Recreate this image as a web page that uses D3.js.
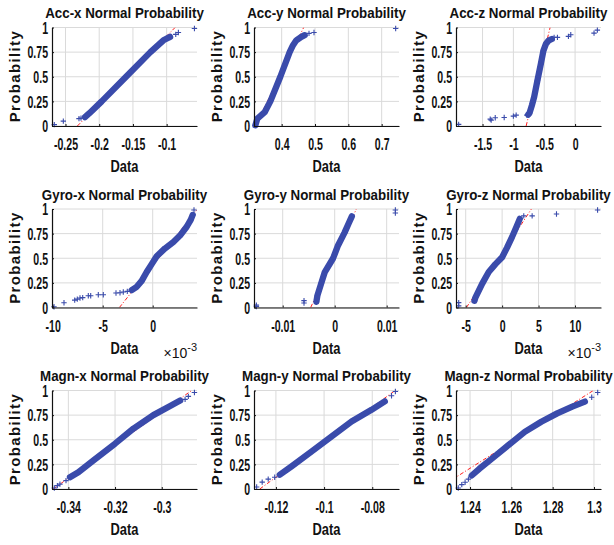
<!DOCTYPE html>
<html>
<head>
<meta charset="utf-8">
<script src="https://cdn.jsdelivr.net/npm/d3@7"></script>
<style>
  body { margin: 0; background: #fff; }
  svg { display: block; font-family: "Liberation Sans", Arial, sans-serif; }
</style>
</head>
<body>
<div id="chart"></div>
<script>
// values, [data, probability]
// band = dense run of markers, tail = the loose markers, ref = fit line x at p=0 and p=1
const accXDomain = [-0.27, -0.055];
const accXTicks = [-0.25, -0.2, -0.15, -0.1];
const accXBand = [[-0.2211, 0.09], [-0.2145, 0.13], [-0.1963, 0.25], [-0.1602, 0.5], [-0.1241, 0.75], [-0.1048, 0.87], [-0.0949, 0.905]];
const accXTail = [[-0.2666, 0.014], [-0.2532, 0.05], [-0.23, 0.075], [-0.227, 0.08], [-0.0865, 0.93], [-0.0826, 0.95], [-0.0588, 0.99]];
const accXRef = [-0.2324, -0.0875];

const accYDomain = [0.317, 0.752];
const accYTicks = [0.4, 0.5, 0.6, 0.7];
const accYBand = [[0.321, 0.007], [0.327, 0.075], [0.339, 0.11], [0.349, 0.14], [0.366, 0.25], [0.396, 0.5], [0.424, 0.75], [0.434, 0.82], [0.444, 0.87], [0.459, 0.905], [0.469, 0.922]];
const accYTail = [[0.482, 0.94], [0.497, 0.95], [0.742, 0.99]];
const accYRef = [0.321, 0.466];

const accZDomain = [-1.93, 0.42];
const accZTicks = [-1.5, -1, -0.5, 0];
const accZBand = [[-0.76, 0.115], [-0.739, 0.13], [-0.70, 0.21], [-0.663, 0.295], [-0.61, 0.463], [-0.555, 0.63], [-0.513, 0.765], [-0.474, 0.832], [-0.432, 0.866], [-0.377, 0.883]];
const accZTail = [[-1.887, 0.017], [-1.375, 0.07], [-1.36, 0.06], [-1.294, 0.084], [-1.149, 0.087], [-1.0, 0.10], [-0.955, 0.11], [-0.782, 0.11],
                  [-0.34, 0.9], [-0.286, 0.9], [-0.108, 0.91], [-0.07, 0.926], [0.307, 0.943], [0.361, 0.973]];
const accZRef = [-0.793, -0.405];

const gyroXDomain = [-0.01007, 0.00443];
const gyroXTicks = [-0.01, -0.005, 0];
const gyroXBand = [[-0.0021, 0.177], [-0.0016, 0.21], [-0.0011, 0.27], [-0.0006, 0.36], [-0.0001, 0.44], [0.0004, 0.52], [0.00123, 0.6], [0.00207, 0.665], [0.00273, 0.73], [0.0034, 0.82], [0.0038, 0.89], [0.0040, 0.94]];
const gyroXTail = [[-0.00987, 0.007], [-0.00887, 0.048], [-0.0078, 0.075], [-0.00754, 0.085], [-0.00727, 0.096], [-0.0070, 0.10], [-0.00644, 0.12], [-0.0062, 0.12],
                   [-0.00544, 0.13], [-0.00494, 0.13], [-0.00367, 0.147], [-0.00327, 0.15], [-0.00294, 0.157], [-0.00254, 0.164], [0.00413, 0.99]];
const gyroXRef = [-0.00333, 0.0045];

const gyroYDomain = [-0.01552, 0.01237];
const gyroYTicks = [-0.01, 0, 0.01];
const gyroYBand = [[-0.00352, 0.058], [-0.00333, 0.12], [-0.00256, 0.25], [-0.0019, 0.36], [-0.0003, 0.5], [0.00064, 0.63], [0.0019, 0.76], [0.0027, 0.856], [0.0033, 0.925]];
const gyroYTail = [[-0.01506, 0.01], [-0.01506, 0.024], [-0.0059, 0.045], [-0.0059, 0.07], [0.01167, 0.99], [0.01167, 0.96]];
const gyroYRef = [-0.00462, 0.00417];

const gyroZDomain = [-0.00633, 0.01357];
const gyroZTicks = [-0.005, 0, 0.005, 0.01];
const gyroZBand = [[-0.0038, 0.068], [-0.00367, 0.1], [-0.00275, 0.24], [-0.00184, 0.36], [-0.00092, 0.44], [0, 0.51], [0.00069, 0.61], [0.00137, 0.717], [0.00206, 0.836], [0.00242, 0.9]];
const gyroZTail = [[-0.00596, 0.017], [-0.00596, 0.05], [0.00297, 0.93], [0.00412, 0.93], [0.00746, 0.95], [0.0131, 0.99]];
const gyroZRef = [-0.0049, 0.00402];

const magnXDomain = [-0.347, -0.2849];
const magnXTicks = [-0.34, -0.32, -0.3];
const magnXBand = [[-0.3393, 0.12], [-0.3357, 0.17], [-0.3293, 0.29], [-0.3200, 0.46], [-0.3121, 0.614], [-0.3036, 0.75], [-0.2964, 0.843], [-0.2921, 0.898]];
const magnXTail = [[-0.346, 0.01], [-0.3447, 0.034], [-0.3436, 0.05], [-0.341, 0.085], [-0.29, 0.91], [-0.2886, 0.94], [-0.286, 0.98]];
const magnXRef = [-0.3465, -0.2872];

const magnYDomain = [-0.1291, -0.0689];
const magnYTicks = [-0.12, -0.1, -0.08];
const magnYBand = [[-0.1184, 0.145], [-0.1135, 0.23], [-0.1052, 0.38], [-0.0969, 0.534], [-0.0886, 0.686], [-0.0803, 0.804], [-0.0748, 0.889]];
const magnYTail = [[-0.128, 0.02], [-0.1257, 0.07], [-0.1232, 0.1], [-0.1205, 0.12], [-0.072, 0.946], [-0.0704, 0.99]];
const magnYRef = [-0.1267, -0.0705];

const magnZDomain = [1.2332, 1.3034];
const magnZTicks = [1.24, 1.26, 1.28, 1.3];
const magnZBand = [[1.2408, 0.137], [1.2445, 0.205], [1.2515, 0.324], [1.2585, 0.444], [1.2665, 0.58], [1.2745, 0.683], [1.2822, 0.768], [1.2895, 0.836], [1.2956, 0.887]];
const magnZTail = [[1.2343, 0.01], [1.236, 0.044], [1.2376, 0.068], [1.2392, 0.1], [1.2989, 0.932], [1.3018, 0.98]];
const magnZRef = [1.2241, 1.2997];

const probTicks = [0, 0.25, 0.5, 0.75, 1];

const plain = d => String(d);
const milli = d => String(Math.round(d * 1000));

const panels = [
    {title: "Acc-x Normal Probability", domain: accXDomain, ticks: accXTicks, band: accXBand, tail: accXTail, ref: accXRef, fmt: plain},
    {title: "Acc-y Normal Probability", domain: accYDomain, ticks: accYTicks, band: accYBand, tail: accYTail, ref: accYRef, fmt: plain},
    {title: "Acc-z Normal Probability", domain: accZDomain, ticks: accZTicks, band: accZBand, tail: accZTail, ref: accZRef, fmt: plain},
    {title: "Gyro-x Normal Probability", domain: gyroXDomain, ticks: gyroXTicks, band: gyroXBand, tail: gyroXTail, ref: gyroXRef, fmt: milli, exp: true},
    {title: "Gyro-y Normal Probability", domain: gyroYDomain, ticks: gyroYTicks, band: gyroYBand, tail: gyroYTail, ref: gyroYRef, fmt: plain},
    {title: "Gyro-z Normal Probability", domain: gyroZDomain, ticks: gyroZTicks, band: gyroZBand, tail: gyroZTail, ref: gyroZRef, fmt: milli, exp: true},
    {title: "Magn-x Normal Probability", domain: magnXDomain, ticks: magnXTicks, band: magnXBand, tail: magnXTail, ref: magnXRef, fmt: plain},
    {title: "Magn-y Normal Probability", domain: magnYDomain, ticks: magnYTicks, band: magnYBand, tail: magnYTail, ref: magnYRef, fmt: plain},
    {title: "Magn-z Normal Probability", domain: magnZDomain, ticks: magnZTicks, band: magnZBand, tail: magnZTail, ref: magnZRef, fmt: plain}
];

const width = 614, height = 545;
const colLeft = [52, 254, 456];
const rowTop = [27.5, 209, 390.5];
const pw = 145, ph = 98.5;
const blue = "#3a4bab";
const ink = "#111";
const tickScale = 0.66;

const svg = d3.select("#chart")
    .append("svg")
    .attr("width", width)
    .attr("height", height);
const defs = svg.append("defs");

const yScale = d3.scaleLinear().domain([0, 1]).range([ph, 0]);

panels.forEach((pn, i) => {
    const col = i % 3, row = Math.floor(i / 3);
    const g = svg.append("g").attr("transform", `translate(${colLeft[col]},${rowTop[row]})`);
    const xScale = d3.scaleLinear().domain(pn.domain).range([0, pw]);

    // grid
    g.append("g").selectAll("line")
        .data(pn.ticks)
        .join("line")
        .attr("x1", d => xScale(d)).attr("x2", d => xScale(d))
        .attr("y1", 0).attr("y2", ph)
        .attr("stroke", "#dadada");
    g.append("g").selectAll("line")
        .data(probTicks)
        .join("line")
        .attr("x1", 0).attr("x2", pw)
        .attr("y1", d => yScale(d)).attr("y2", d => yScale(d))
        .attr("stroke", "#dadada");

    defs.append("clipPath").attr("id", "clip" + i)
        .append("rect").attr("width", pw).attr("height", ph);

    // fitted line
    g.append("line")
        .attr("clip-path", `url(#clip${i})`)
        .attr("x1", xScale(pn.ref[0])).attr("y1", yScale(0))
        .attr("x2", xScale(pn.ref[1])).attr("y2", yScale(1))
        .attr("stroke", "#ff2020")
        .attr("stroke-width", 1)
        .attr("stroke-dasharray", "4,2,1,2");

    // dense marker band
    const line = d3.line().x(d => xScale(d[0])).y(d => yScale(d[1]));
    g.append("path")
        .attr("d", line(pn.band))
        .attr("fill", "none")
        .attr("stroke", blue)
        .attr("stroke-width", 6.3)
        .attr("stroke-linecap", "round")
        .attr("stroke-linejoin", "round");

    g.append("g").selectAll("path")
        .data(pn.tail.concat(pn.band))
        .join("path")
        .attr("transform", d => `translate(${xScale(d[0])},${yScale(d[1])})`)
        .attr("d", "M-2.7,0H2.7M0,-2.7V2.7")
        .attr("stroke", blue)
        .attr("stroke-width", 1.1);

    // axes
    const xAxis = d3.axisBottom(xScale).tickValues(pn.ticks).tickFormat(pn.fmt)
        .tickSizeInner(-2).tickSizeOuter(0).tickPadding(13);
    const xg = g.append("g")
        .attr("transform", `translate(0,${ph})`)
        .attr("color", ink)
        .call(xAxis);
    xg.selectAll("text")
        .style("font-size", "16px")
        .style("font-weight", "700")
        .attr("transform", `scale(${tickScale},1)`);

    const yAxis = d3.axisLeft(yScale).tickValues(probTicks).tickFormat(plain)
        .tickSizeInner(-2).tickSizeOuter(0);
    const yg = g.append("g").attr("color", ink).call(yAxis);
    yg.selectAll("text")
        .style("font-size", "16px")
        .style("font-weight", "700")
        .attr("x", -4 / tickScale)
        .attr("dy", "0.36em")
        .attr("transform", `scale(${tickScale},1)`);
    xg.select(".domain").attr("stroke-width", 1.2);
    yg.select(".domain").attr("stroke-width", 1.2);

    // title
    g.append("text")
        .attr("transform", `translate(${pw / 2},-9.5) scale(0.89,1)`)
        .attr("text-anchor", "middle")
        .style("font-size", "15px")
        .style("font-weight", "700")
        .attr("fill", ink)
        .text(pn.title);

    // axis labels
    g.append("text")
        .attr("transform", `translate(${pw / 2},${ph + 46}) scale(0.76,1)`)
        .attr("text-anchor", "middle")
        .style("font-size", "17px")
        .style("font-weight", "700")
        .attr("fill", ink)
        .text("Data");

    g.append("text")
        .attr("transform", `translate(-32.5,${ph / 2}) rotate(-90)`)
        .attr("text-anchor", "middle")
        .attr("textLength", 91)
        .attr("lengthAdjust", "spacing")
        .style("font-size", "15px")
        .style("font-weight", "700")
        .attr("fill", ink)
        .text("Probability");

    if (pn.exp) {
        const t = g.append("text")
            .attr("transform", `translate(${pw},${ph + 50})`)
            .attr("text-anchor", "end")
            .style("font-size", "14px")
            .attr("fill", ink);
        t.append("tspan").text("\u00d710");
        t.append("tspan").attr("dy", -7).style("font-size", "11px").text("-3");
    }
});
</script>
</body>
</html>
